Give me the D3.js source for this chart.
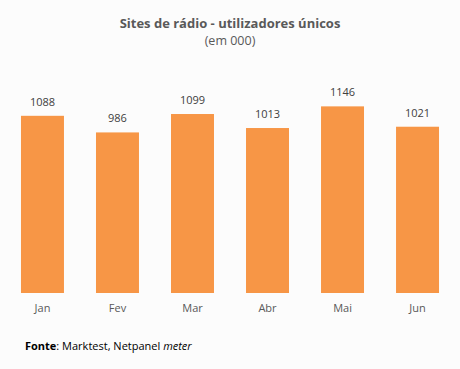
<!DOCTYPE html>
<html>
<head>
<meta charset="utf-8">
<script src="https://cdn.jsdelivr.net/npm/d3@7"></script>
<style>
  body { margin: 0; background: #fcfcfc; }
  svg { display: block; font-family: "Open Sans", "Noto Sans", sans-serif; }
</style>
</head>
<body>
<svg id="chart"></svg>
<script>
const months = ['Jan', 'Fev', 'Mar', 'Abr', 'Mai', 'Jun'];
const visitors = [1088, 986, 1099, 1013, 1146, 1021];

(function() {
  const dim = { w: 460, h: 369, left: 5, right: 455, top: 65, bottom: 293 },
    $svg = d3.select('#chart').attr('width', dim.w).attr('height', dim.h);

  $svg.append('rect').attr('width', dim.w).attr('height', dim.h).attr('fill', '#fcfcfc');

  const xScale = d3.scaleBand()
    .domain(months)
    .range([dim.left, dim.right])
    .paddingInner(0.427)
    .paddingOuter(0.213),
    yScale = d3.scaleLinear()
    .domain([0, 1400])
    .range([dim.bottom, dim.top]);

  $svg.append('text')
    .text('Sites de rádio - utilizadores únicos')
    .attr('x', 230).attr('y', 28)
    .attr('text-anchor', 'middle')
    .attr('font-size', 13)
    .attr('font-weight', 'bold')
    .attr('fill', '#595959');
  $svg.append('text')
    .text('(em 000)')
    .attr('x', 230).attr('y', 45)
    .attr('text-anchor', 'middle')
    .attr('font-size', 12.5)
    .attr('fill', '#595959');

  const data = months.map((m, i) => ({ month: m, value: visitors[i] }));

  $svg.selectAll('.bar')
    .data(data)
    .enter()
    .append('rect')
    .attr('class', 'bar')
    .attr('x', (d) => xScale(d.month))
    .attr('width', xScale.bandwidth())
    .attr('y', (d) => yScale(d.value))
    .attr('height', (d) => yScale(0) - yScale(d.value))
    .attr('fill', '#f79646');

  $svg.selectAll('.val')
    .data(data)
    .enter()
    .append('text')
    .attr('class', 'val')
    .attr('x', (d) => xScale(d.month) + xScale.bandwidth() / 2)
    .attr('y', (d) => yScale(d.value) - 10)
    .attr('text-anchor', 'middle')
    .attr('font-size', 11)
    .attr('fill', '#404040')
    .text((d) => d.value);

  const xAxis = $svg.append('g')
    .attr('transform', 'translate(0,' + dim.bottom + ')')
    .call(d3.axisBottom(xScale).tickSize(0).tickPadding(11));
  xAxis.select('.domain').remove();
  xAxis.selectAll('text')
    .attr('font-size', 11)
    .attr('font-family', '"Open Sans", "Noto Sans", sans-serif')
    .attr('fill', '#595959');

  const $note = $svg.append('text')
    .attr('x', 25).attr('y', 350)
    .attr('font-size', 11)
    .attr('fill', '#000');
  $note.append('tspan').attr('font-weight', 'bold').text('Fonte');
  $note.append('tspan').text(': Marktest, Netpanel ');
  $note.append('tspan').attr('font-style', 'italic').text('meter');
})();
</script>
</body>
</html>
